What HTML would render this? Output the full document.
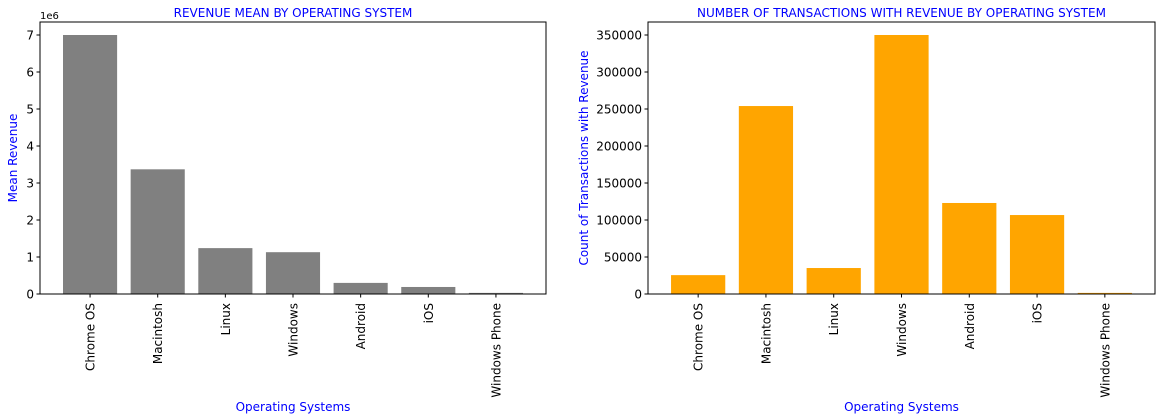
<!DOCTYPE html>
<html><head><meta charset="utf-8"><style>
body{margin:0;background:#fff;}
svg{display:block;font-family:"DejaVu Sans","Liberation Sans",sans-serif;}
</style></head><body>
<svg id="chart" width="1162" height="420" viewBox="0 0 1162 420"></svg>
<script>
const categories = ["Chrome OS","Macintosh","Linux","Windows","Android","iOS","Windows Phone"];
const meanRevenue = [7000000,3370000,1240000,1130000,300000,190000,30000];
const txCount = [25500,254000,35100,350000,123000,106700,1500];
const leftTicks = [0,1,2,3,4,5,6,7];
const rightTicks = [0,50000,100000,150000,200000,250000,300000,350000];

const NS="http://www.w3.org/2000/svg";
const svg=document.getElementById('chart');
function mk(tag,attrs,parent){const e=document.createElementNS(NS,tag);for(const k in attrs)e.setAttribute(k,attrs[k]);(parent||svg).appendChild(e);return e;}

function panel(cfg){
  const g=mk('g',{});
  
  
  const {x0,x1,y0,y1}=cfg;
  const n=categories.length;
  const dmin=-0.74, dmax=n-1+0.74;
  const sx=v=>x0+(v-dmin)/(dmax-dmin)*(x1-x0);
  const sy=v=>y1-(v-0)/(cfg.ymax)*(y1-y0);
  cfg.values.forEach((v,i)=>{
    const r=mk('rect',{x:sx(i-0.4),y:sy(v),width:sx(i+0.4)-sx(i-0.4),height:y1-sy(v),fill:cfg.color},g);
    
    
  });
  const frame=mk('rect',{x:x0,y:y0,width:x1-x0,height:y1-y0,fill:'none',stroke:'#000','stroke-width':1},g);
  
  
  cfg.ticks.forEach(t=>{
    const y=sy(t*cfg.tickScale);
    mk('line',{x1:x0-3.5,x2:x0,y1:y,y2:y,stroke:'#000'},g);
    const tx=mk('text',{x:x0-6,y:y+4.5,'text-anchor':'end','font-size':12,fill:'#000'},g);
    tx.textContent=t;
    
    
  });
  categories.forEach((c,i)=>{
    const x=sx(i);
    mk('line',{x1:x,x2:x,y1:y1,y2:y1+3.5,stroke:'#000'},g);
    const tx=mk('text',{x:0,y:0,transform:`translate(${x+4.5},${y1+9}) rotate(-90)`,'text-anchor':'end','font-size':12,fill:'#000'},g);
    tx.textContent=c;
    
    
  });
  const title=mk('text',{x:(x0+x1)/2,y:y0-5,'text-anchor':'middle','font-size':12,fill:'#0000ff'},g);
  title.textContent=cfg.title;
  
  
  const xl=mk('text',{x:(x0+x1)/2,y:411,'text-anchor':'middle','font-size':12,fill:'#0000ff'},g);
  xl.textContent='Operating Systems';
  
  
  const yl=mk('text',{x:0,y:0,transform:`translate(${cfg.ylx},${(y0+y1)/2}) rotate(-90)`,'text-anchor':'middle','font-size':12,fill:'#0000ff'},g);
  yl.textContent=cfg.ylabel;
  
  
  if(cfg.offset){
    const o=mk('text',{x:x0,y:y0-3,'font-size':10,fill:'#000'},g);
    o.textContent=cfg.offset;
    
    
  }
}
panel({name:'mean-revenue-panel',x0:40,x1:546,y0:22,y1:294,ymax:7000000*(272/259),values:meanRevenue,ticks:leftTicks,tickScale:1e6,color:'#808080',title:'REVENUE MEAN BY OPERATING SYSTEM',ylabel:'Mean Revenue',ylx:17,offset:'1e6'});
panel({name:'transaction-count-panel',x0:648,x1:1155,y0:22,y1:294,ymax:350000*(272/259),values:txCount,ticks:rightTicks,tickScale:1,color:'#ffa500',title:'NUMBER OF TRANSACTIONS WITH REVENUE BY OPERATING SYSTEM',ylabel:'Count of Transactions with Revenue',ylx:588});
</script>
</body></html>
